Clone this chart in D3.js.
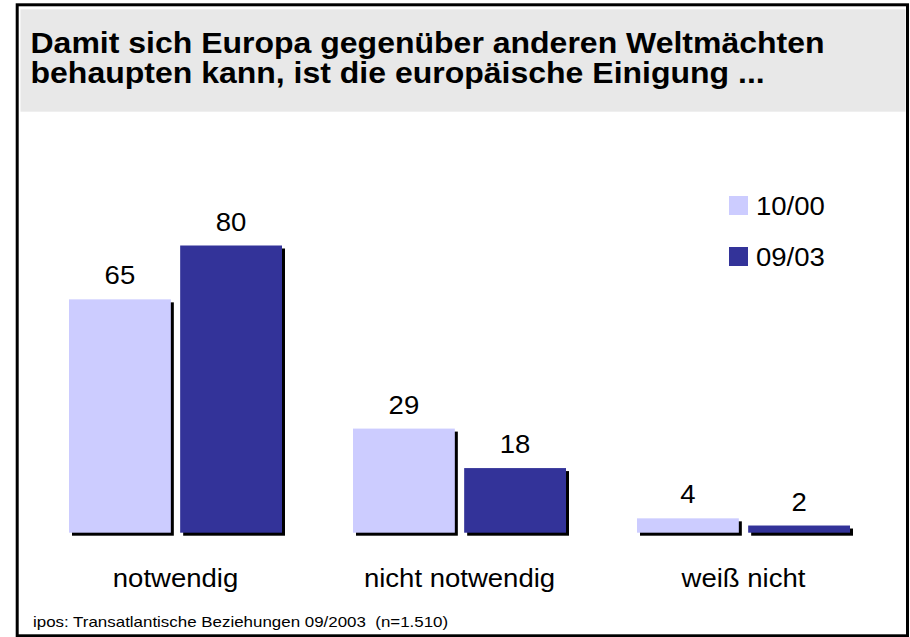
<!DOCTYPE html>
<html>
<head>
<meta charset="utf-8">
<script src="https://cdn.jsdelivr.net/npm/d3@7"></script>
<style>
  html, body { margin: 0; padding: 0; background: #fff; }
  svg { display: block; }
  text { font-family: "Liberation Sans", Arial, Helvetica, sans-serif; fill: #000; }
</style>
</head>
<body>
<svg id="chart" width="910" height="637"></svg>
<script>
// Survey answers: is European unification necessary?
const categories = ["notwendig", "nicht notwendig", "weiß nicht"];
const seriesNames = ["10/00", "09/03"];
const values1000 = [65, 29, 4];
const values0903 = [80, 18, 2];
const seriesColors = ["#ccccff", "#333399"];
const titleLines = [
  "Damit sich Europa gegenüber anderen Weltmächten",
  "behaupten kann, ist die europäische Einigung ..."
];
const sourceNote = "ipos: Transatlantische Beziehungen 09/2003\u00a0\u00a0(n=1.510)";

const svg = d3.select("#chart");
const W = 910, H = 637;

// Text in this layout is slightly wide; stretch horizontally
const SX = 1.08;
function stretchedText(sel, x, y, str, size, opts = {}) {
  return sel.append("text")
    .attr("transform", `translate(${x},${y}) scale(${opts.sx || SX},1)`)
    .attr("text-anchor", opts.anchor || "start")
    .attr("font-size", size)
    .attr("font-weight", opts.weight || "normal")
    .text(str);
}

// Frame and title band
svg.append("rect").attr("x", 0).attr("y", 0).attr("width", W).attr("height", H).attr("fill", "#fff");
svg.append("rect")
  .attr("x", 20.5).attr("y", 9.3).attr("width", 885).attr("height", 102.4)
  .attr("fill", "#e8e8e8");
svg.append("rect")
  .attr("x", 17.2).attr("y", 4.8).attr("width", 890.3).attr("height", 631)
  .attr("fill", "none").attr("stroke", "#000").attr("stroke-width", 3);

// Two-line title as one text block
const title = svg.append("text")
  .attr("transform", "translate(30.5,53.3) scale(1.085,1)")
  .attr("font-size", 29.5)
  .attr("font-weight", "bold");
title.selectAll("tspan")
  .data(titleLines)
  .join("tspan")
  .attr("x", 0)
  .attr("y", (d, i) => i * 30)
  .text(d => d);

// Scales
const x0 = d3.scaleBand()
  .domain(categories)
  .range([33.5, 885.5])
  .paddingInner(0.25)
  .paddingOuter(0.125);

const x1 = d3.scaleBand()
  .domain(seriesNames)
  .range([0, x0.bandwidth()])
  .paddingInner(0.084)
  .paddingOuter(0);

const y = d3.scaleLinear().domain([0, 100]).range([532.7, 173.7]);

const rows = categories.map((c, i) => ({
  category: c,
  items: [
    { series: seriesNames[0], value: values1000[i], color: seriesColors[0] },
    { series: seriesNames[1], value: values0903[i], color: seriesColors[1] }
  ]
}));

const shadow = 3;
const groups = svg.append("g").selectAll("g.group")
  .data(rows)
  .join("g")
  .attr("class", "group")
  .attr("transform", d => `translate(${x0(d.category)},0)`);

const bar = groups.selectAll("g.bar")
  .data(d => d.items)
  .join("g")
  .attr("class", "bar");

// drop shadow
bar.append("rect")
  .attr("x", d => x1(d.series) + shadow)
  .attr("y", d => y(d.value) + shadow)
  .attr("width", x1.bandwidth())
  .attr("height", d => y(0) - y(d.value))
  .attr("fill", "#000");

bar.append("rect")
  .attr("x", d => x1(d.series))
  .attr("y", d => y(d.value))
  .attr("width", x1.bandwidth())
  .attr("height", d => y(0) - y(d.value))
  .attr("fill", d => d.color);

// value labels
bar.each(function(d) {
  stretchedText(d3.select(this), x1(d.series) + x1.bandwidth() / 2, y(d.value) - 15,
    String(d.value), 25.5, { anchor: "middle" });
});

// category labels
rows.forEach(r => {
  stretchedText(svg, x0(r.category) + x0.bandwidth() / 2, 587, r.category, 25.5, { anchor: "middle" });
});

// legend
const legend = svg.append("g");
seriesNames.forEach((s, i) => {
  const ly = 196 + i * 51;
  legend.append("rect")
    .attr("x", 729).attr("y", ly).attr("width", 19).attr("height", 19)
    .attr("fill", seriesColors[i]);
  stretchedText(legend, 756, ly + 19, s, 25.5);
});

// source note
stretchedText(svg, 33, 626.7, sourceNote, 14, { sx: 1.21 });
</script>
</body>
</html>
